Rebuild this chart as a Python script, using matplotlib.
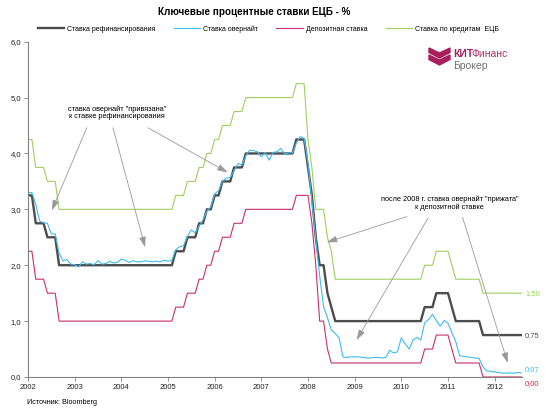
import numpy as np
import matplotlib
matplotlib.use('Agg')
import matplotlib.pyplot as plt
from matplotlib.patches import Polygon

plt.rcParams['font.family'] = ['Liberation Sans', 'DejaVu Sans']

# monthly points, 12 per row (row = one year on the axis)
refi = [
    3.25, 3.25, 2.75, 2.75, 2.75, 2.50, 2.50, 2.50, 2.00, 2.00, 2.00, 2.00,
    2.00, 2.00, 2.00, 2.00, 2.00, 2.00, 2.00, 2.00, 2.00, 2.00, 2.00, 2.00,
    2.00, 2.00, 2.00, 2.00, 2.00, 2.00, 2.00, 2.00, 2.00, 2.00, 2.00, 2.00,
    2.00, 2.00, 2.25, 2.25, 2.25, 2.50, 2.50, 2.50, 2.75, 2.75, 3.00, 3.00,
    3.25, 3.25, 3.50, 3.50, 3.50, 3.75, 3.75, 3.75, 4.00, 4.00, 4.00, 4.00,
    4.00, 4.00, 4.00, 4.00, 4.00, 4.00, 4.00, 4.00, 4.00, 4.25, 4.25, 4.25,
    3.75, 3.25, 2.50, 2.00, 2.00, 1.50, 1.25, 1.00, 1.00, 1.00, 1.00, 1.00,
    1.00, 1.00, 1.00, 1.00, 1.00, 1.00, 1.00, 1.00, 1.00, 1.00, 1.00, 1.00,
    1.00, 1.00, 1.00, 1.00, 1.00, 1.00, 1.25, 1.25, 1.25, 1.50, 1.50, 1.50,
    1.50, 1.25, 1.00, 1.00, 1.00, 1.00, 1.00, 1.00, 1.00, 0.75, 0.75, 0.75,
    0.75, 0.75, 0.75, 0.75, 0.75, 0.75, 0.75, 0.75,
]
overnight = [
    3.30, 3.30, 3.09, 2.79, 2.76, 2.75, 2.56, 2.56, 2.21, 2.08, 2.10, 2.02,
    2.01, 1.97, 2.06, 2.02, 2.03, 2.01, 2.08, 2.02, 2.03, 2.07, 2.04, 2.05,
    2.11, 2.09, 2.05, 2.08, 2.06, 2.06, 2.08, 2.07, 2.06, 2.07, 2.06, 2.09,
    2.07, 2.09, 2.28, 2.33, 2.35, 2.52, 2.63, 2.58, 2.70, 2.81, 2.97, 3.04,
    3.28, 3.33, 3.50, 3.56, 3.57, 3.69, 3.82, 3.79, 3.96, 4.06, 4.05, 4.03,
    3.94, 4.02, 3.88, 4.02, 4.03, 4.09, 3.99, 4.01, 4.01, 4.19, 4.30, 4.27,
    3.82, 3.15, 2.49, 1.81, 1.26, 1.06, 0.84, 0.78, 0.70, 0.36, 0.35, 0.36,
    0.36, 0.36, 0.35, 0.34, 0.34, 0.35, 0.35, 0.34, 0.35, 0.48, 0.43, 0.45,
    0.70, 0.59, 0.50, 0.66, 0.71, 0.66, 0.97, 1.03, 1.12, 1.01, 0.91, 1.01,
    0.96, 0.79, 0.63, 0.38, 0.37, 0.36, 0.35, 0.34, 0.33, 0.18, 0.11, 0.10,
    0.09, 0.08, 0.07, 0.07, 0.07, 0.07, 0.08, 0.07,
]
deposit = [
    2.25, 2.25, 1.75, 1.75, 1.75, 1.50, 1.50, 1.50, 1.00, 1.00, 1.00, 1.00,
    1.00, 1.00, 1.00, 1.00, 1.00, 1.00, 1.00, 1.00, 1.00, 1.00, 1.00, 1.00,
    1.00, 1.00, 1.00, 1.00, 1.00, 1.00, 1.00, 1.00, 1.00, 1.00, 1.00, 1.00,
    1.00, 1.00, 1.25, 1.25, 1.25, 1.50, 1.50, 1.50, 1.75, 1.75, 2.00, 2.00,
    2.25, 2.25, 2.50, 2.50, 2.50, 2.75, 2.75, 2.75, 3.00, 3.00, 3.00, 3.00,
    3.00, 3.00, 3.00, 3.00, 3.00, 3.00, 3.00, 3.00, 3.00, 3.25, 3.25, 3.25,
    3.25, 2.75, 2.00, 1.00, 1.00, 0.50, 0.25, 0.25, 0.25, 0.25, 0.25, 0.25,
    0.25, 0.25, 0.25, 0.25, 0.25, 0.25, 0.25, 0.25, 0.25, 0.25, 0.25, 0.25,
    0.25, 0.25, 0.25, 0.25, 0.25, 0.25, 0.50, 0.50, 0.50, 0.75, 0.75, 0.75,
    0.75, 0.50, 0.25, 0.25, 0.25, 0.25, 0.25, 0.25, 0.25, 0.00, 0.00, 0.00,
    0.00, 0.00, 0.00, 0.00, 0.00, 0.00, 0.00, 0.00,
]
lending = [
    4.25, 4.25, 3.75, 3.75, 3.75, 3.50, 3.50, 3.50, 3.00, 3.00, 3.00, 3.00,
    3.00, 3.00, 3.00, 3.00, 3.00, 3.00, 3.00, 3.00, 3.00, 3.00, 3.00, 3.00,
    3.00, 3.00, 3.00, 3.00, 3.00, 3.00, 3.00, 3.00, 3.00, 3.00, 3.00, 3.00,
    3.00, 3.00, 3.25, 3.25, 3.25, 3.50, 3.50, 3.50, 3.75, 3.75, 4.00, 4.00,
    4.25, 4.25, 4.50, 4.50, 4.50, 4.75, 4.75, 4.75, 5.00, 5.00, 5.00, 5.00,
    5.00, 5.00, 5.00, 5.00, 5.00, 5.00, 5.00, 5.00, 5.00, 5.25, 5.25, 5.25,
    4.25, 3.75, 3.00, 3.00, 3.00, 2.50, 2.25, 1.75, 1.75, 1.75, 1.75, 1.75,
    1.75, 1.75, 1.75, 1.75, 1.75, 1.75, 1.75, 1.75, 1.75, 1.75, 1.75, 1.75,
    1.75, 1.75, 1.75, 1.75, 1.75, 1.75, 2.00, 2.00, 2.00, 2.25, 2.25, 2.25,
    2.25, 2.00, 1.75, 1.75, 1.75, 1.75, 1.75, 1.75, 1.75, 1.50, 1.50, 1.50,
    1.50, 1.50, 1.50, 1.50, 1.50, 1.50, 1.50, 1.50,
]
labels = ['Ставка рефинансирования', 'Ставка овернайт', 'Депозитная ставка',
          'Ставка по кредитам  ЕЦБ']
years = list(range(2002, 2013))

x = 2002 + np.arange(len(refi)) / 12

c_refi = '#4d4d4d'
c_on = '#3dbcef'
c_dep = '#c8306e'
c_lend = '#9fcf5f'

fig = plt.figure(figsize=(5.5, 4.12), dpi=100)
ax = fig.add_axes([0.0509, 0.085, 0.898, 0.8138])

l1, = ax.plot(x, refi, color=c_refi, lw=1.7, label=labels[0])
l2, = ax.plot(x, overnight, color=c_on, lw=0.8, label=labels[1])
l3, = ax.plot(x, deposit, color=c_dep, lw=0.8, label=labels[2])
l4, = ax.plot(x, lending, color=c_lend, lw=0.8, label=labels[3])

ax.set_xlim(2002, x[-1])
ax.set_ylim(0, 6)
ax.set_xticks(years)
ax.set_xticklabels([str(y) for y in years])
ax.set_yticks(range(7))
ax.set_yticklabels(['%d,0' % v for v in range(7)])
ax.tick_params(labelsize=5.5, length=3, width=0.6, color='#808080',
               labelcolor='#222222', pad=2)
for s in ['top', 'right']:
    ax.spines[s].set_visible(False)
for s in ['left', 'bottom']:
    ax.spines[s].set_color('#808080')
    ax.spines[s].set_linewidth(0.8)

# last values at the right edge
end_lab = [(lending[-1], c_lend, lending[-1]),
           (refi[-1], c_refi, refi[-1]),
           (overnight[-1], c_on, 0.14),
           (deposit[-1], '#e0203c', -0.12)]
for val, col, ypos in end_lab:
    ax.text(x[-1] + 0.07, ypos, ('%.2f' % val).replace('.', ','), color=col,
            fontsize=5.5, va='center', ha='left', clip_on=False)

# annotations
arr = dict(arrowstyle='-|>,head_length=0.7,head_width=0.22', color='#9a9a9a',
           lw=0.6, mutation_scale=9, shrinkA=0, shrinkB=0)
ax.text(2003.91, 4.73, 'ставка овернайт "привязана"\nк ставке рефинансирования',
        fontsize=5.3, ha='center', va='center', linespacing=1.0)
for start, tip in [((2003.26, 4.46), (2002.51, 2.98)),
                   ((2003.82, 4.46), (2004.51, 2.32)),
                   ((2004.57, 4.46), (2006.28, 3.66))]:
    ax.annotate('', xy=tip, xytext=start, arrowprops=arr)

ax.text(2011.04, 3.11, 'после 2008 г. ставка овернайт "прижата"\nк депозитной ставке',
        fontsize=5.3, ha='center', va='center', linespacing=1.0)
for start, tip in [((2010.12, 2.87), (2008.40, 2.41)),
                   ((2010.57, 2.84), (2009.04, 0.66)),
                   ((2011.31, 2.86), (2012.28, 0.25))]:
    ax.annotate('', xy=tip, xytext=start, arrowprops=arr)

fig.text(0.462, 0.971, 'Ключевые процентные ставки ЕЦБ - %', fontsize=7.1,
         fontweight='bold', ha='center', va='center')
fig.legend(handles=[l1, l2, l3, l4], loc='center', bbox_to_anchor=(0.488, 0.93),
           ncol=4, frameon=False, fontsize=5, handlelength=3.8,
           handletextpad=0.45, columnspacing=2.6)
fig.text(0.049, 0.024, 'Источник: Bloomberg', fontsize=5.2, ha='left', va='center')

# logo
W, H = 550.0, 412.0
def px(pts):
    return [(a / W, 1 - b / H) for a, b in pts]
for dy in (0, 7):
    fig.patches.append(Polygon(px([(429, 48 + dy), (439.5, 53 + dy), (450, 48 + dy),
                                   (450, 52.5 + dy), (439.5, 58 + dy), (429, 52.5 + dy)]),
                               closed=True, color='#a81f5c', transform=fig.transFigure))
t_kit = fig.text(453 / W, 1 - 54 / H, 'КИТ', fontsize=7.5, fontweight='bold',
                 color='#a81f5c', ha='left', va='center')
fig.canvas.draw()
bb = t_kit.get_window_extent()
fig.text((bb.x1 - 1.5) / W, 1 - 54 / H, 'Финанс', fontsize=7.5, color='#b0306a',
         ha='left', va='center')
fig.text(453 / W, 1 - 66 / H, 'Брокер', fontsize=7.5, color='#707070',
         ha='left', va='center')

fig.savefig('out.png', dpi=100)
